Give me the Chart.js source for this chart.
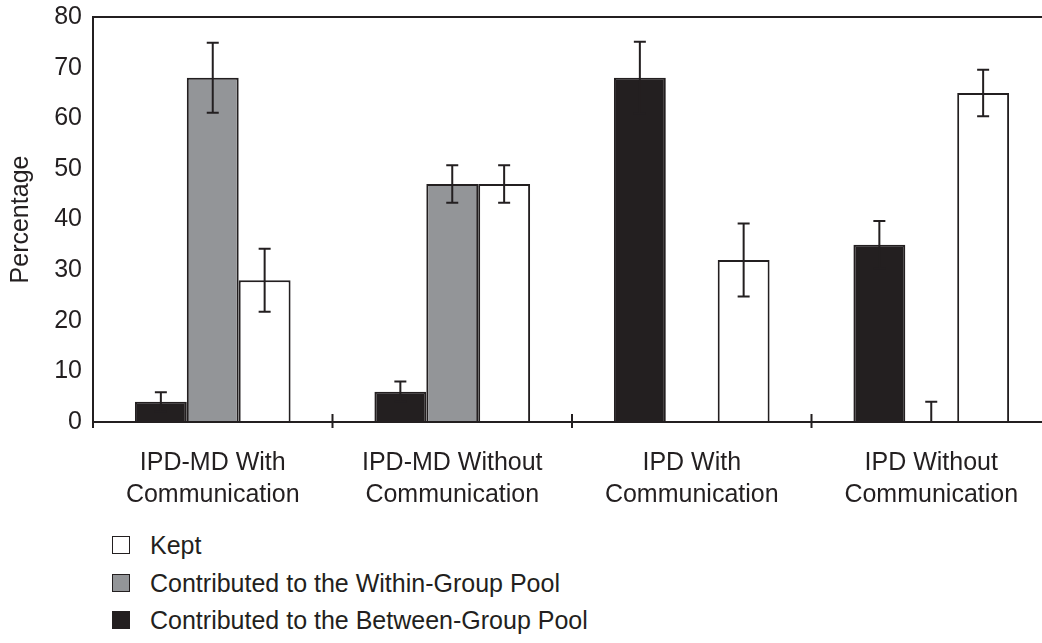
<!DOCTYPE html>
<html>
<head>
<meta charset="utf-8">
<script src="https://cdn.jsdelivr.net/npm/chart.js@4/dist/chart.umd.min.js"></script>
<style>
	html, body { margin: 0; padding: 0; background: #fff; overflow: hidden; }
	#wrap { position: relative; width: 1042px; height: 643px; overflow: hidden; }
	#chart { position: absolute; left: 0; top: 0; }
	.legend { position: absolute; left: 112px; font-family: "Liberation Sans", Arial, sans-serif; font-size: 25px; color: #231f20; }
	.legend div { position: absolute; left: 0; white-space: nowrap; height: 30px; line-height: 30px; }
	.legend span.box { display: inline-block; width: 16px; height: 16px; border: 1.5px solid #231f20; vertical-align: middle; margin-right: 20px; position: relative; top: -2px; }
</style>
</head>
<body>
<div id="wrap">
	<canvas id="chart" width="1060" height="530"></canvas>
	<div class="legend" id="legend"></div>
</div>
<script>
// categories et valeurs
const categories = [
	["IPD-MD With", "Communication"],
	["IPD-MD Without", "Communication"],
	["IPD With", "Communication"],
	["IPD Without", "Communication"],
];
const seriesNames = [
	"Contributed to the Between-Group Pool",
	"Contributed to the Within-Group Pool",
	"Kept",
];
const betweenValues = [4, 6, 68, 35];
const betweenErrors = [1.9, 2, 7.1, 4.7];
const withinValues = [68, 47, 0, 0];
const withinErrors = [6.9, 3.7, null, 4];
const keptValues = [28, 47, 32, 65];
const keptErrors = [6.2, 3.7, 7.2, 4.6];
const yTicks = [0, 10, 20, 30, 40, 50, 60, 70, 80];

const ink = "#231f20";
const fills = ["#231f20", "#939598", "#ffffff"];
const errors = [betweenErrors, withinErrors, keptErrors];

/**
 * plugin qui dessine le cadre, les petits traits et les barres d'erreur
 */
const extras = {
	id: "extras",
	afterDatasetsDraw(chart) {
		const ctx = chart.ctx;
		const area = chart.chartArea;
		const y = chart.scales.y;
		ctx.save();
		ctx.strokeStyle = ink;
		ctx.lineWidth = 2;

		// barres d'erreur
		ctx.beginPath();
		ctx.rect(area.left, area.top, area.right - area.left, area.bottom - area.top);
		ctx.clip();
		chart.data.datasets.forEach((ds, d) => {
			const meta = chart.getDatasetMeta(d);
			meta.data.forEach((bar, i) => {
				const err = errors[d][i];
				if (err == null) return;
				const v = ds.data[i];
				const top = y.getPixelForValue(v + err);
				const bot = y.getPixelForValue(v - err);
				ctx.beginPath();
				ctx.moveTo(bar.x, top);
				ctx.lineTo(bar.x, bot);
				ctx.moveTo(bar.x - 6, top);
				ctx.lineTo(bar.x + 6, top);
				ctx.moveTo(bar.x - 6, bot);
				ctx.lineTo(bar.x + 6, bot);
				ctx.stroke();
			});
		});
		ctx.restore();

		ctx.save();
		ctx.strokeStyle = ink;
		ctx.lineWidth = 2;
		// cadre
		ctx.beginPath();
		ctx.moveTo(area.left, area.bottom + 6);
		ctx.lineTo(area.left, area.top);
		ctx.lineTo(area.right, area.top);
		ctx.lineTo(area.right, area.bottom);
		ctx.moveTo(area.left, area.bottom);
		ctx.lineTo(area.right, area.bottom);
		// traits entre les groupes
		const step = (area.right - area.left) / categories.length;
		for (let i = 1; i <= categories.length; i++) {
			const x = area.left + i * step;
			ctx.moveTo(x, area.bottom - 8);
			ctx.lineTo(x, area.bottom + 6);
		}
		ctx.stroke();
		ctx.restore();
	},
};

const font = { family: "'Liberation Sans', Arial, sans-serif", size: 25 };
const xFont = { family: "'Liberation Sans', Arial, sans-serif", size: 25, lineHeight: 1.28 };

new Chart(document.getElementById("chart"), {
	type: "bar",
	data: {
		labels: categories,
		datasets: seriesNames.map((name, d) => ({
			label: name,
			data: [betweenValues, withinValues, keptValues][d],
			backgroundColor: fills[d],
			borderColor: ink,
			borderWidth: 2,
			categoryPercentage: 0.65,
			barPercentage: 1.0,
		})),
	},
	options: {
		responsive: false,
		animation: false,
		layout: { padding: { top: 17, right: 9, left: 0, bottom: 0 } },
		plugins: {
			legend: { display: false },
			tooltip: { enabled: false },
		},
		scales: {
			x: {
				grid: { display: false, drawTicks: false },
				border: { display: false },
				ticks: { color: ink, font: xFont, padding: 25, maxRotation: 0, autoSkip: false },
				afterFit: (scale) => {
					scale.height = 108;
					scale.paddingLeft = 0;
					scale.paddingRight = 0;
				},
			},
			y: {
				min: 0,
				max: 80,
				grid: { display: false, drawTicks: false },
				border: { display: false },
				afterBuildTicks: (scale) => { scale.ticks = yTicks.map((v) => ({ value: v })); },
				ticks: { color: ink, font: font, padding: 11 },
				title: { display: true, text: "Percentage", color: ink, font: font, padding: { top: 6, bottom: 0 } },
				afterFit: (scale) => {
					scale.width = 93;
					scale.paddingTop = 0;
					scale.paddingBottom = 0;
				},
			},
		},
	},
	plugins: [extras],
});

// légende à la main, dans l'ordre de l'image
const legend = document.getElementById("legend");
const legendOrder = [2, 1, 0];
const legendTops = [530, 568, 605];
legendOrder.forEach((d, k) => {
	const item = document.createElement("div");
	item.style.top = legendTops[k] + "px";
	item.innerHTML = `<span class="box" style="background:${fills[d]}"></span>${seriesNames[d]}`;
	legend.appendChild(item);
});
</script>
</body>
</html>
